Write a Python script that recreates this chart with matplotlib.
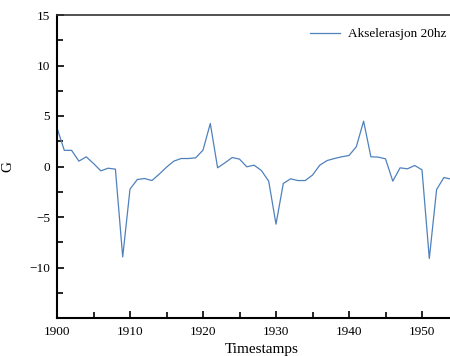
import matplotlib
matplotlib.use("Agg")
import matplotlib.pyplot as plt
from matplotlib.ticker import MultipleLocator, FixedLocator

timestamps = list(range(1900, 1955))
accel = [3.83, 1.6, 1.6, 0.53, 0.96, 0.3, -0.43, -0.17, -0.26, -8.95,
         -2.24, -1.29, -1.19, -1.39, -0.76, -0.07, 0.53, 0.79, 0.79, 0.86,
         1.62, 4.26, -0.13, 0.36, 0.89, 0.73, -0.03, 0.13, -0.4, -1.45,
         -5.71, -1.68, -1.22, -1.39, -1.39, -0.85, 0.13, 0.59, 0.79, 0.96,
         1.09, 1.95, 4.49, 0.96, 0.93, 0.76, -1.45, -0.13, -0.23, 0.1,
         -0.33, -9.11, -2.28, -1.09, -1.25]
series_label = "Akselerasjon 20hz"
y_ticks = [-10, -5, 0, 5, 10, 15]

plt.rcParams['font.family'] = ['Liberation Serif', 'DejaVu Serif']

fig = plt.figure(figsize=(4.5, 3.56), dpi=100)
ax = fig.add_axes([57/450, 38/356, 408.8/450, 303/356])
line, = ax.plot(timestamps, accel, color='#4f81bd', lw=0.9, label=series_label)
ax.set_xlim(1900, 1956)
ax.set_ylim(-15, 15)
ax.xaxis.set_major_locator(MultipleLocator(10))
ax.xaxis.set_minor_locator(MultipleLocator(5))
ax.yaxis.set_major_locator(FixedLocator(y_ticks))
ax.yaxis.set_minor_locator(MultipleLocator(2.5))
ax.tick_params(which='both', direction='in', labelsize=9.5, width=1.2)
ax.tick_params(which='major', length=5)
ax.tick_params(which='minor', length=4)
ax.tick_params(axis='y', pad=5)
ax.tick_params(axis='x', pad=6)
for s in ['left', 'bottom']:
    ax.spines[s].set_linewidth(1.5)
ax.spines['top'].set_linewidth(1.2)
ax.spines['top'].set_color('#333333')
ax.set_xlabel('Timestamps', fontsize=11, labelpad=3)
ax.set_ylabel('G', fontsize=11)
ax.yaxis.set_label_coords(-0.105, 0.5)
fig.legend(handles=[line], loc='upper right', bbox_to_anchor=(1.018, 0.955),
           frameon=False, fontsize=9.5, handlelength=2.3, handletextpad=0.6)
fig.savefig('out.png', dpi=100)
